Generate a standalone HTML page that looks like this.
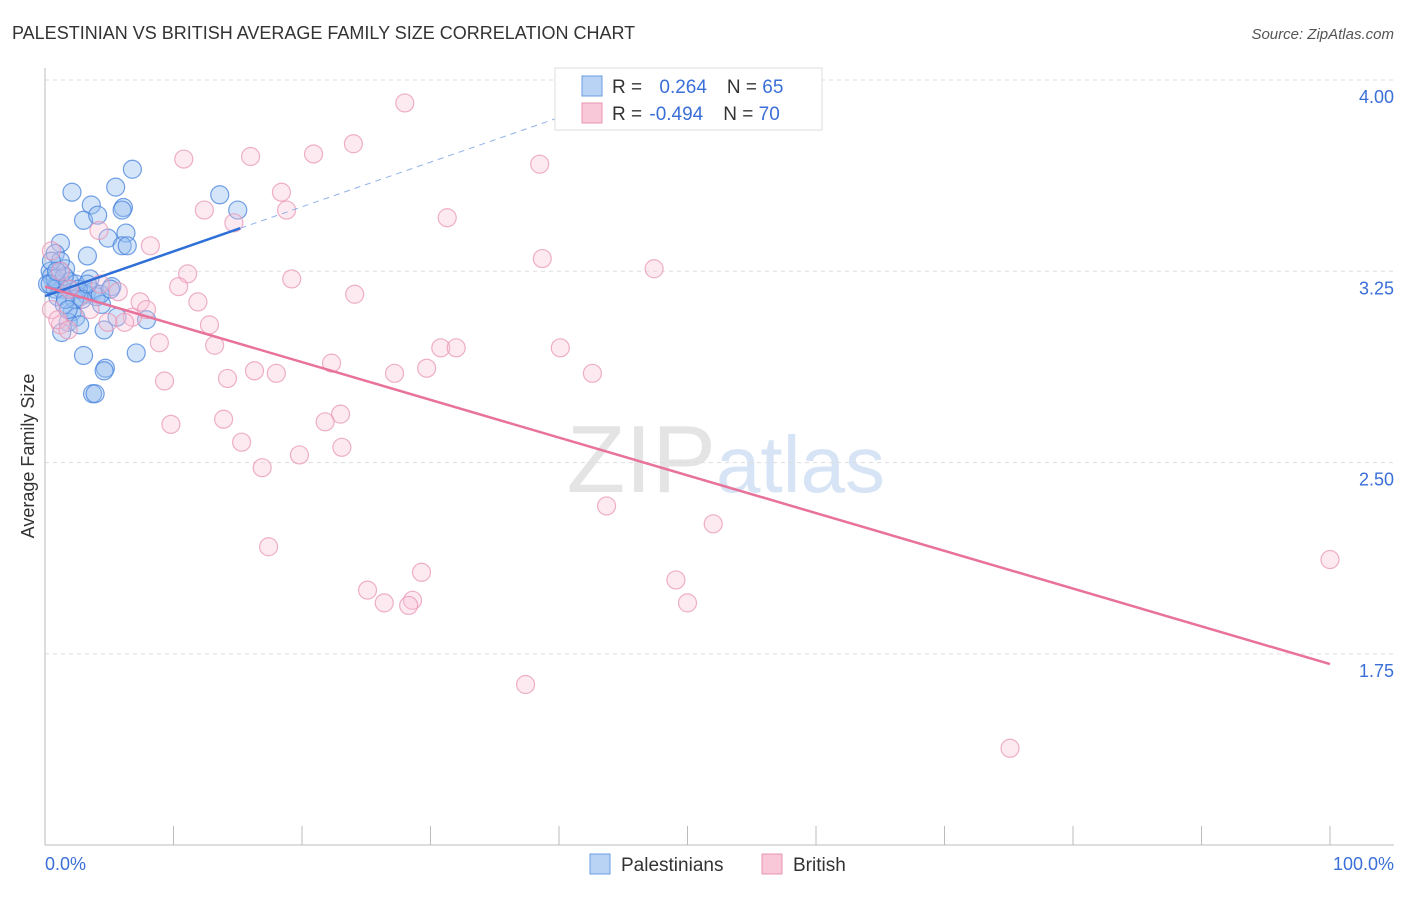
<!DOCTYPE html>
<html><head><meta charset="utf-8"><style>
body{margin:0;background:#fff;font-family:"Liberation Sans",sans-serif;}
svg text{font-family:"Liberation Sans",sans-serif;}
</style></head><body>
<svg width="1406" height="892">
<text x="12" y="39" font-size="18" fill="#333">PALESTINIAN VS BRITISH AVERAGE FAMILY SIZE CORRELATION CHART</text>
<text x="1394" y="39" font-size="15" fill="#555" text-anchor="end" font-style="italic">Source: ZipAtlas.com</text>
<text x="716" y="492" font-size="96" fill="#e4e4e4" text-anchor="end" font-family="Liberation Serif">ZIP</text>
<text x="716" y="492" font-size="80" fill="#d6e4f5">atlas</text>
<g id="grid"></g><g id="axes"></g><g id="pts"></g><g id="lines"></g>
<text x="34" y="456" font-size="18" fill="#333" transform="rotate(-90 34 456)" text-anchor="middle">Average Family Size</text>
<text x="45" y="870" font-size="18" fill="#3a6fd8">0.0%</text>
<text x="1394" y="870" font-size="18" fill="#3a6fd8" text-anchor="end">100.0%</text>
<g>
<rect x="555" y="68" width="267" height="62" fill="#fff" stroke="#ddd"/>
<rect x="582" y="76" width="20" height="20" fill="#b9d3f5" stroke="#6b9be0"/>
<rect x="582" y="103" width="20" height="20" fill="#f9c8d8" stroke="#e895b3"/>
<text x="612" y="93" font-size="19" fill="#333">R = <tspan fill="#3a6fd8" dx="12">0.264</tspan><tspan dx="20" fill="#333">N = </tspan><tspan fill="#3a6fd8">65</tspan></text>
<text x="612" y="120" font-size="19" fill="#333">R = <tspan fill="#3a6fd8" dx="2">-0.494</tspan><tspan dx="20" fill="#333">N = </tspan><tspan fill="#3a6fd8">70</tspan></text>
</g>
<g>
<rect x="590" y="854" width="20" height="20" fill="#b9d3f5" stroke="#6b9be0"/>
<text x="621" y="871" font-size="19" fill="#333">Palestinians</text>
<rect x="762" y="854" width="20" height="20" fill="#f9c8d8" stroke="#e895b3"/>
<text x="793" y="871" font-size="19" fill="#333">British</text>
</g>
</svg>
<script>
const yTicks=[4.00,3.25,2.50,1.75];
const xTickPct=[0,10,20,30,40,50,60,70,80,90,100];
const palX=[6.8,2.1,5.5,3.6,6.1,6.0,3.0,4.1,13.6,15.0,4.9,6.3,6.0,6.4,1.2,3.3,0.8,0.4,1.2,1.6,0.5,0.2,1.0,1.9,3.5,2.4,1.3,0.8,3.2,3.7,5.2,2.7,4.0,1.0,4.4,2.1,5.6,7.9,2.4,1.8,2.7,4.6,1.3,3.0,7.1,4.7,4.6,3.7,3.9,1.5,0.8,1.5,1.9,2.3,4.3,0.4,1.2,1.6,2.6,0.5,2.9,1.8,3.3,0.9,5.1];
const palY=[3.65,3.56,3.58,3.51,3.50,3.49,3.45,3.47,3.55,3.49,3.38,3.40,3.35,3.35,3.36,3.31,3.32,3.25,3.25,3.26,3.23,3.20,3.20,3.21,3.22,3.20,3.18,3.18,3.16,3.17,3.19,3.15,3.15,3.15,3.12,3.09,3.07,3.06,3.07,3.05,3.04,3.02,3.01,2.92,2.93,2.87,2.86,2.77,2.77,3.12,3.22,3.23,3.18,3.14,3.16,3.20,3.29,3.14,3.18,3.29,3.14,3.10,3.20,3.25,3.18];
const briX=[28.0,24.0,20.9,16.0,10.8,38.5,18.4,12.4,18.8,31.3,14.7,4.2,8.2,0.5,38.7,47.4,11.1,19.2,10.4,24.1,5.7,7.4,11.9,7.9,0.5,6.8,4.9,6.2,12.8,1.2,8.9,13.2,30.8,32.0,40.1,22.3,16.3,18.0,27.2,29.7,42.6,9.3,14.2,23.0,21.8,13.9,9.8,15.3,23.1,19.8,16.9,43.7,52.0,100.0,17.4,29.3,49.1,25.1,26.4,28.6,28.3,50.0,37.4,75.1,1.2,1.9,1.0,1.8,3.5,4.3];
const briY=[3.91,3.75,3.71,3.70,3.69,3.67,3.56,3.49,3.49,3.46,3.44,3.41,3.35,3.33,3.30,3.26,3.24,3.22,3.19,3.16,3.17,3.13,3.13,3.10,3.10,3.07,3.05,3.05,3.04,3.04,2.97,2.96,2.95,2.95,2.95,2.89,2.86,2.85,2.85,2.87,2.85,2.82,2.83,2.69,2.66,2.67,2.65,2.58,2.56,2.53,2.48,2.33,2.26,2.12,2.17,2.07,2.04,2.00,1.95,1.96,1.94,1.95,1.63,1.38,3.25,3.18,3.06,3.02,3.10,3.20];
const palTrend=[3.153,0.0175];
const briTrend=[3.19,-0.0148];
const NS="http://www.w3.org/2000/svg";
const X=p=>45+p*12.85, Y=v=>80+(4-v)/0.75*191.3;
function mk(t,a,parent){const e=document.createElementNS(NS,t);for(const k in a)e.setAttribute(k,a[k]);document.getElementById(parent).appendChild(e);return e;}
yTicks.forEach(v=>{
 const l=mk('line',{x1:45,x2:1394,y1:Y(v),y2:Y(v),stroke:'#ddd','stroke-dasharray':'4,4'},'grid');
 
 
 const t=mk('text',{x:1394,y:Y(v)+23,'font-size':18,fill:'#3a6fd8','text-anchor':'end'},'grid');
 t.textContent=v.toFixed(2);
 
 
});
const ax=mk('line',{x1:45,x2:45,y1:68,y2:845,stroke:'#bbb'},'axes');


const bx=mk('line',{x1:45,x2:1394,y1:845,y2:845,stroke:'#bbb'},'axes');


xTickPct.forEach(p=>{const t=mk('line',{x1:X(p),x2:X(p),y1:826,y2:845,stroke:'#bbb'},'axes');
 
 });
palX.forEach((x,i)=>{const c=mk('circle',{cx:X(x),cy:Y(palY[i]),r:9,fill:'rgba(150,190,240,0.4)',stroke:'rgba(70,130,220,0.75)','stroke-width':1.2},'pts');
 
 });
briX.forEach((x,i)=>{const c=mk('circle',{cx:X(x),cy:Y(briY[i]),r:9,fill:'rgba(248,195,215,0.35)',stroke:'rgba(232,150,182,0.75)','stroke-width':1.2},'pts');
 
 });
const f=(t,p)=>t[0]+t[1]*p;
const pl=mk('line',{x1:X(0),y1:Y(f(palTrend,0)),x2:X(15.2),y2:Y(f(palTrend,15.2)),stroke:'#2f6fd8','stroke-width':2.5},'lines');


const pd=mk('line',{x1:X(15.2),y1:Y(f(palTrend,15.2)),x2:X(42.5),y2:Y(f(palTrend,42.5)),stroke:'#8fb2e8','stroke-width':1,'stroke-dasharray':'6,5'},'lines');


const bl=mk('line',{x1:X(0),y1:Y(f(briTrend,0)),x2:X(100),y2:Y(f(briTrend,100)),stroke:'#e8729a','stroke-width':2.5},'lines');


</script>
</body></html>
